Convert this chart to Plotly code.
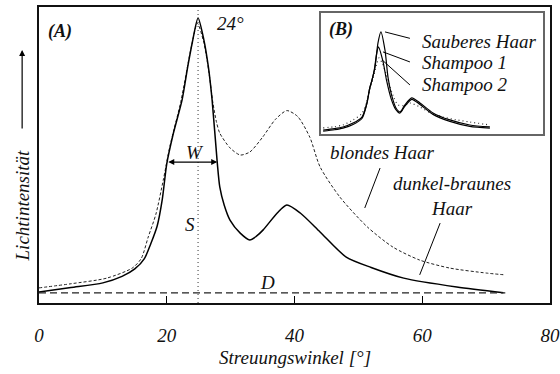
import plotly.graph_objects as go

# ---- main panel (A) data ----
dark_x = [0, 5, 10, 13, 15, 16.5, 17.5, 18.5, 19.3, 20.0, 21.0, 22.4, 23.3, 24.0, 24.9, 25.8, 26.5, 27.1, 27.9, 28.3, 29.0, 29.9, 31.5, 33.0, 34.0, 35.1, 37.3, 38.8, 40.9, 44.0, 48.1, 52.0, 57.1, 65.4, 72.7]
dark_y = [3.7, 5.2, 6.8, 9.0, 11.5, 15.0, 20.0, 26.0, 35.0, 47.0, 57.0, 68.6, 80.0, 88.0, 96.3, 89.0, 80.0, 68.6, 47.6, 39.2, 33.0, 28.0, 23.6, 21.3, 22.5, 24.7, 30.4, 33.1, 30.4, 24.0, 15.5, 12.0, 8.4, 5.4, 3.5]

blond_x = [0, 5, 10.6, 14.6, 16.0, 17.1, 18.3, 19.5, 20.5, 22.2, 23.8, 24.8, 25.8, 26.6, 27.2, 27.8, 28.3, 29.9, 31.5, 33.0, 35.0, 37.0, 38.8, 40.5, 42.4, 44.0, 47.1, 51.4, 55.4, 59.6, 64.3, 70.1, 73.0]
blond_y = [5.1, 6.5, 8.4, 11.8, 15.0, 22.3, 30.0, 42.0, 53.0, 68.0, 86.0, 94.5, 88.0, 78.0, 68.0, 61.0, 57.4, 52.4, 50.0, 51.0, 56.0, 62.0, 65.0, 63.0, 56.0, 46.0, 35.8, 25.7, 18.9, 14.5, 11.8, 10.1, 9.5]

base_x = [0, 73]
base_y = [3.4, 3.4]

peak_angle = 24.9
x_ticks = [0, 20, 40, 60, 80]

# ---- inset panel (B) data ----
clean_x = [0, 5, 8.7, 13.1, 17.0, 19.2, 20.5, 21.4, 22.7, 24.0, 25.3, 27.1, 28.4, 30.2, 31.9, 33.7, 35.8, 38.8, 42.4, 48.1, 55.5, 64.2, 73.0]
clean_y = [3.3, 4.5, 5.8, 9.0, 14.0, 25.6, 38.8, 44.6, 55.0, 75.0, 84.3, 69.0, 47.0, 30.6, 21.5, 18.2, 24.0, 29.8, 25.6, 17.4, 11.6, 7.4, 5.8]

sh1_x = [0, 5, 8.7, 13.1, 17.0, 19.0, 20.3, 21.2, 22.4, 23.4, 24.2, 26.2, 27.8, 29.8, 31.7, 33.6, 35.8, 38.8, 42.4, 48.1, 55.5, 64.2, 73.0]
sh1_y = [2.3, 3.5, 4.8, 7.8, 12.8, 24.0, 37.0, 43.0, 53.0, 66.0, 72.0, 60.0, 44.0, 29.0, 20.5, 17.2, 23.0, 28.6, 24.4, 16.2, 10.4, 6.3, 4.8]

sh2_x = [0, 5, 8.7, 13.1, 17.0, 19.0, 20.5, 22.0, 23.5, 24.5, 26.0, 27.5, 29.3, 31.0, 32.8, 35.0, 38.0, 42.4, 47.0, 52.4, 58.0, 64.2, 73.0]
sh2_y = [5.0, 6.0, 7.5, 11.5, 17.0, 26.0, 37.0, 47.0, 58.0, 62.8, 58.0, 50.0, 38.8, 30.0, 24.0, 23.5, 25.6, 22.3, 17.5, 14.0, 11.8, 9.9, 7.4]

FONT = "Liberation Serif"

fig = go.Figure()

sp = dict(shape="spline", smoothing=0.7)
fig.add_trace(go.Scatter(x=blond_x, y=blond_y, mode="lines", line=dict(color="#222", width=1, dash="3px,2px", **sp), showlegend=False))
fig.add_trace(go.Scatter(x=dark_x, y=dark_y, mode="lines", line=dict(color="#000", width=1.5, **sp), showlegend=False))
fig.add_trace(go.Scatter(x=base_x, y=base_y, mode="lines", line=dict(color="#222", width=1.2, dash="7px,4px"), showlegend=False))
fig.add_trace(go.Scatter(x=[peak_angle, peak_angle], y=[0, 100], mode="lines", line=dict(color="#333", width=1, dash="1px,3px"), showlegend=False))

# inset traces
fig.add_trace(go.Scatter(x=sh2_x, y=sh2_y, xaxis="x2", yaxis="y2", mode="lines", line=dict(color="#333", width=1.2, dash="1px,3px", **sp), showlegend=False))
fig.add_trace(go.Scatter(x=sh1_x, y=sh1_y, xaxis="x2", yaxis="y2", mode="lines", line=dict(color="#000", width=1.2, **sp), showlegend=False))
fig.add_trace(go.Scatter(x=clean_x, y=clean_y, xaxis="x2", yaxis="y2", mode="lines", line=dict(color="#000", width=1.2, **sp), showlegend=False))

it = dict(family=FONT, size=19, color="#111", style="italic")

ann = []
def txt(x, y, t, xref="x", yref="y", xanchor="center", size=19, bold=False, **kw):
    f = dict(it)
    f["size"] = size
    if bold:
        f["weight"] = "bold"
        t = "<b>" + t + "</b>"
    ann.append(dict(x=x, y=y, xref=xref, yref=yref, text="<i>" + t + "</i>", showarrow=False, xanchor=xanchor, yanchor="middle", font=f, **kw))

txt(3.3, 91.6, "(A)", size=18, bold=True)
txt(27.6, 94.3, "24°", xanchor="left")
txt(24.4, 50.7, "W")
txt(23.6, 26.4, "S")
txt(35.8, 6.8, "D")
txt(53.7, 50.7, "blondes Haar")
txt(64.7, 36.3, "dunkel-braunes<br>Haar", align="center")

txt(7.9, 86, "(B)", xref="x2", yref="y2", size=18, bold=True)
txt(42.4, 76, "Sauberes Haar", xref="x2", yref="y2", xanchor="left")
txt(42.4, 58.7, "Shampoo 1", xref="x2", yref="y2", xanchor="left")
txt(42.4, 40.5, "Shampoo 2", xref="x2", yref="y2", xanchor="left")

# axis titles as annotations
ann.append(dict(x=-0.033, y=0.33, xref="paper", yref="paper", text="<i>Lichtintensität</i>", textangle=-90,
                showarrow=False, xanchor="center", yanchor="middle", font=dict(it)))
ann.append(dict(x=0.5, y=-0.185, xref="paper", yref="paper", text="<i>Streuungswinkel [°]</i>",
                showarrow=False, xanchor="center", yanchor="middle", font=dict(it)))
# upward arrow next to y title
ann.append(dict(x=-0.033, y=(303 - 50) / 296, ax=0, ay=80, xref="paper", yref="paper",
                text="", showarrow=True, arrowhead=2, arrowsize=1, arrowwidth=1.2, arrowcolor="#000"))
# W double arrow
ann.append(dict(x=27.9, y=47.6, ax=20.0, ay=47.6, xref="x", yref="y", axref="x", ayref="y", text="",
                showarrow=True, arrowhead=2, startarrowhead=2, arrowside="end+start", arrowsize=1, arrowwidth=1.2, arrowcolor="#000"))

shapes = []
def seg(x0, y0, x1, y1, xref="x", yref="y"):
    shapes.append(dict(type="line", x0=x0, y0=y0, x1=x1, y1=y1, xref=xref, yref=yref, line=dict(color="#000", width=1)))

seg(53.4, 45.6, 51.0, 32.1)
seg(62.8, 27.0, 59.6, 9.5)
seg(27.1, 84.3, 38.0, 79.0, "x2", "y2")
seg(26.2, 67.8, 38.0, 59.5, "x2", "y2")
seg(25.8, 61.2, 38.0, 40.5, "x2", "y2")

fig.update_layout(
    template="none",
    font=dict(family=FONT, size=19, color="#111"),
    width=560, height=374,
    margin=dict(l=39, r=10, t=7, b=71),
    paper_bgcolor="white", plot_bgcolor="white",
    annotations=ann, shapes=shapes,
    xaxis=dict(range=[0, 80], tickvals=x_ticks, ticktext=["<i>%d</i>" % v for v in x_ticks], ticks="inside", ticklen=7,
               tickcolor="#000", showline=True, linecolor="#111", linewidth=2, mirror=True, showgrid=False,
               zeroline=False, tickfont=dict(it), ticklabelstandoff=14),
    yaxis=dict(range=[0, 100], showticklabels=False, ticks="", showline=True, linecolor="#111", linewidth=2,
               mirror=True, showgrid=False, zeroline=False),
    xaxis2=dict(domain=[0.552, 0.986], anchor="y2", range=[-0.9, 96.2], showticklabels=False, ticks="",
                showline=True, linecolor="#666", linewidth=1.5, mirror=True, showgrid=False, zeroline=False),
    yaxis2=dict(domain=[0.571, 0.980], anchor="x2", range=[0, 100], showticklabels=False, ticks="",
                showline=True, linecolor="#666", linewidth=1.5, mirror=True, showgrid=False, zeroline=False),
)

fig.write_html("out.html")
